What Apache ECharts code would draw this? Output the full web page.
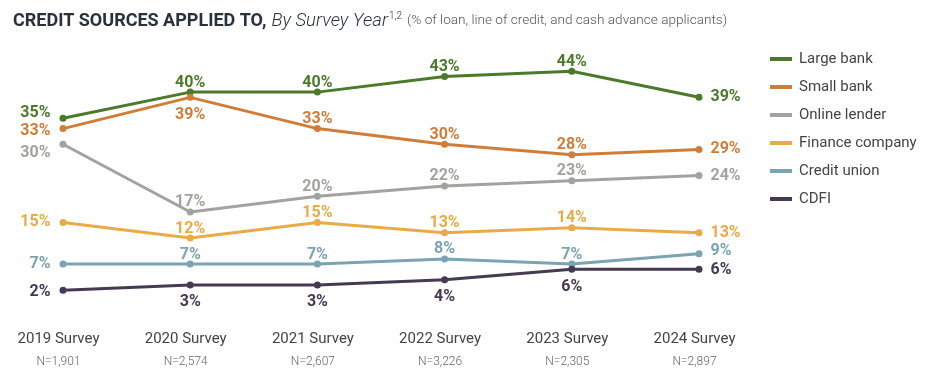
<!DOCTYPE html>
<html>
<head>
<meta charset="utf-8">
<script src="https://cdn.jsdelivr.net/npm/echarts@6/dist/echarts.min.js"></script>
<style>html,body{margin:0;padding:0;background:#fff;}#chart{width:929px;height:390px;}</style>
</head>
<body>
<div id="chart"></div>
<script>
const categories = ['2019 Survey', '2020 Survey', '2021 Survey', '2022 Survey', '2023 Survey', '2024 Survey'];
const sampleSizes = ['N=1,901', 'N=2,574', 'N=2,607', 'N=3,226', 'N=2,305', 'N=2,897'];
const seriesNames = ['Large bank', 'Small bank', 'Online lender', 'Finance company', 'Credit union', 'CDFI'];
const largeBank = [35, 40, 40, 43, 44, 39];
const smallBank = [33, 39, 33, 30, 28, 29];
const onlineLender = [30, 17, 20, 22, 23, 24];
const financeCompany = [15, 12, 15, 13, 14, 13];
const creditUnion = [7, 7, 7, 8, 7, 9];
const cdfi = [2, 3, 3, 4, 6, 6];

const values = [largeBank, smallBank, onlineLender, financeCompany, creditUnion, cdfi];
const colors = ['#4b7a2b', '#d27d37', '#a2a29e', '#e8ab47', '#7ba4b3', '#463a52'];
// label placement for middle points: t = above, b = below
const middlePlacement = [
  ['t','t','t','t'],
  ['b','t','t','t'],
  ['t','t','t','t'],
  ['t','t','t','t'],
  ['t','t','t','t'],
  ['b','b','b','b']
];
const leftOffsetY = [-5, 2, 9, 0, 0, 2];
const rightOffsetY = [0, 0, 0, 0, -3, 1];

const chart = echarts.init(document.getElementById('chart'));

const series = values.map((vals, si) => ({
  name: seriesNames[si],
  type: 'line',
  data: vals.map((v, i) => {
    let label;
    if (i === 0) {
      label = { position: 'left', distance: 9, offset: [0, leftOffsetY[si]] };
    } else if (i === vals.length - 1) {
      label = { position: 'right', distance: 8, offset: [0, rightOffsetY[si]] };
    } else {
      const p = middlePlacement[si][i - 1];
      label = p === 't' ? { position: 'top', distance: -2 } : { position: 'bottom', distance: 6 };
    }
    return { value: v, label };
  }),
  symbol: 'circle',
  symbolSize: 7,
  lineStyle: { width: 3, color: colors[si] },
  itemStyle: { color: colors[si] },
  label: {
    show: true,
    formatter: '{c}%',
    color: colors[si],
    fontFamily: 'Roboto',
    fontWeight: 'bold',
    fontSize: 16
  },
  emphasis: { disabled: true },
  animation: false
}));

chart.setOption({
  animation: false,
  color: colors,
  title: {
    left: 8,
    top: 6,
    text: '{a|CREDIT SOURCES APPLIED TO,} {b|By Survey Year}{s|1,2} {c|(% of loan, line of credit, and cash advance applicants)}',
    textStyle: {
      rich: {
        a: { fontFamily: 'Roboto', fontWeight: 'bold', fontSize: 18, color: '#29313d', lineHeight: 20 },
        b: { fontFamily: 'Roboto', fontStyle: 'italic', fontWeight: 300, fontSize: 18.5, color: '#29313d', lineHeight: 20 },
        s: { fontFamily: 'Roboto', fontWeight: 300, fontSize: 10, color: '#29313d', verticalAlign: 'top', lineHeight: 20, padding: [0, 0, 10, 1] },
        c: { fontFamily: 'Roboto', fontWeight: 300, fontSize: 13.6, color: '#555', lineHeight: 20 }
      }
    }
  },
  legend: {
    orient: 'vertical',
    left: 765,
    top: 45,
    icon: 'rect',
    itemWidth: 22,
    itemHeight: 4,
    itemGap: 10,
    data: seriesNames,
    textStyle: { fontFamily: 'Roboto', fontSize: 15, color: '#444', lineHeight: 18, padding: [0, 0, 0, 2] }
  },
  grid: { left: 63, right: 230, top: 40, bottom: 89.4, containLabel: false },
  xAxis: {
    type: 'category',
    data: categories,
    boundaryGap: false,
    axisLine: { show: false },
    axisTick: { show: false },
    splitLine: { show: false },
    axisLabel: {
      margin: 28,
      interval: 0,
      formatter: (val, idx) => '{a|' + val + '}\n{b|' + sampleSizes[idx] + '}',
      rich: {
        a: { fontFamily: 'Roboto', fontSize: 15, color: '#444', lineHeight: 22, padding: [0, 9, 0, 0] },
        b: { fontFamily: 'Roboto', fontWeight: 300, fontSize: 12, color: '#666', lineHeight: 22, padding: [0, 9, 0, 0] }
      }
    }
  },
  yAxis: {
    type: 'value',
    min: 0,
    max: 50,
    show: false,
    splitLine: { show: false }
  },
  series
});
</script>
</body>
</html>
